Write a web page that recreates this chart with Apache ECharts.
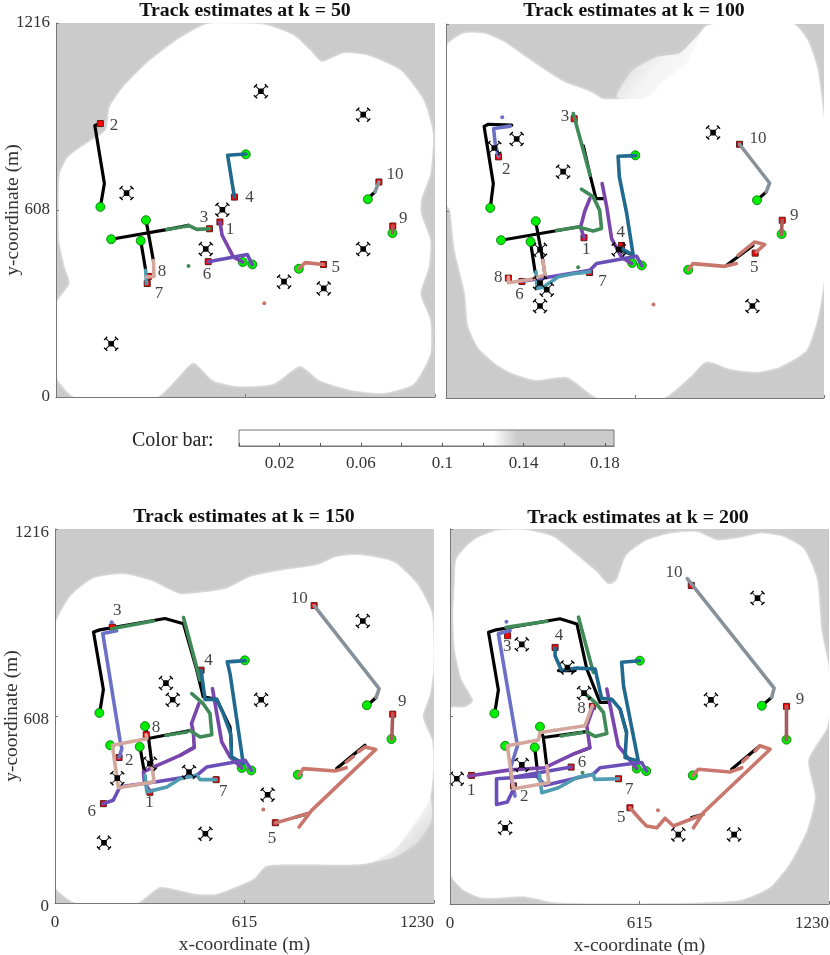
<!DOCTYPE html>
<html lang="en">
<head>
    <meta charset="UTF-8">
    <title>Track estimates</title>
    <script src="https://cdn.jsdelivr.net/npm/echarts/dist/echarts.min.js"></script>
    <style>
        html, body { margin: 0; padding: 0; background: #fff; }
    </style>
</head>
<body>
    <div id="main" style="width: 830px; height: 955px;"></div>

    <script>
        // Start positions of the ten tracks (same in every panel)
        var trackStarts = [[606, 439], [144, 618], [179, 513], [616, 789], [788, 417],
                           [637, 431], [275, 508], [292, 575], [1092, 533], [1012, 643]];
        var trackColors = ['#7a45ad', '#6b71c7', '#3f8a57', '#1f6a8e', '#c9776d',
                           '#6a4fb8', '#4f9bb2', '#d3a79c', '#a85d5d', '#87919a'];
        // Short stretch of track 3 where estimate and truth alternate
        var dottedStretch = [[360, 545], [430, 556]];

        // Colour bar
        var colorBarMax = 0.1845;
        var colorBarStops = [[0, '#ffffff'], [0.1246, '#ffffff'], [0.137, '#cbcbcb'], [0.1845, '#cbcbcb']];
        var colorBarLabels = ['0.02', '0.06', '0.1', '0.14', '0.18'];

        // ---- k = 50 ----
        var k50Coverage = [[100, 824], [40, 780], [13, 726], [9, 618], [11, 509], [29, 423], [45, 369], [0, 301], [0, 70], [62, 0],
            [327, 0], [392, 60], [446, 112], [511, 54], [597, 35], [705, 43], [792, 101], [857, 54], [965, 22], [1063, 13],
            [1160, 43], [1214, 141], [1214, 249], [1182, 336], [1209, 423], [1214, 509], [1184, 596], [1184, 640], [1214, 726],
            [1223, 856], [1192, 965], [1117, 1062], [1008, 1111], [933, 1117], [862, 1089], [824, 1127], [770, 1176], [684, 1209],
            [597, 1214], [489, 1212], [392, 1160], [294, 1084], [219, 1008], [175, 943], [162, 867]];
        var k50Truth = [
            [[144, 618], [157, 694], [126, 883], [144, 889]],
            [[179, 513], [359, 544], [430, 558]],
            [[292, 576], [316, 444]],
            [[275, 508], [291, 412]],
            [[1011, 643], [1035, 667]]
        ];
        var k50Estimates = [
            [[[606, 439], [576, 455], [539, 526], [532, 569]]],
            [],
            [[[430, 558], [457, 545], [498, 547]]],
            [[[616, 790], [557, 786], [579, 650]]],
            [[[788, 417], [809, 437], [868, 431]]],
            [[[637, 430], [621, 463], [494, 440]]],
            [[[291, 412], [294, 369]]],
            [[[316, 444], [318, 392], [294, 390]]],
            [[[1092, 533], [1093, 556]]],
            [[[1035, 667], [1048, 699]]]
        ];
        var k50Ends = [[532, 569], [144, 889], [498, 547], [579, 650], [868, 431], [494, 440], [296, 369], [300, 392], [1093, 556], [1048, 699]];
        var k50Labels = [[565, 544, '1'], [188, 883, '2'], [480, 585, '3'], [628, 648, '4'], [908, 420, '5'],
                         [490, 399, '6'], [334, 336, '7'], [344, 409, '8'], [1127, 579, '9'], [1100, 724, '10']];
        var k50Drones = [[665, 994], [997, 918], [229, 663], [540, 609], [486, 481], [740, 375], [869, 353], [997, 481], [179, 173]];
        var k50Clutter = [[430, 426, 2], [676, 305, 4]];

        // ---- k = 100 ----
        var k100Coverage = [[0, 1140], [57, 1185], [122, 1185], [187, 1158], [274, 1098], [382, 1028], [469, 996], [511, 972], [598, 972],
            [657, 979], [719, 1040], [784, 1089], [843, 1206], [880, 1216], [1129, 1216], [1175, 1164], [1207, 1076], [1224, 959], [1230, 900], [1230, 393],
            [1210, 263], [1172, 155], [1085, 101], [1010, 85], [923, 95], [847, 119], [793, 68], [707, 0], [495, 0], [394, 68],
            [290, 59], [215, 81], [159, 114], [104, 166], [72, 237], [62, 341], [29, 481], [14, 610], [0, 632]];
        var k100Soft = [[556, 979], [608, 1066], [687, 1109], [761, 1121], [826, 1187], [843, 1206], [784, 1089], [719, 1040], [657, 979]];
        var k100Truth = [
            [[144, 617], [154, 697], [124, 883], [138, 890], [214, 887]],
            [[179, 513], [430, 556]],
            [[512, 648], [488, 648], [469, 724], [447, 820]],
            [[292, 573], [315, 448], [322, 400]],
            [[275, 507], [290, 410]],
            [[1012, 643], [1042, 670]],
            [[912, 431], [999, 496]],
            [[560, 486], [609, 464]]
        ];
        var k100Estimates = [
            [[[604, 437], [571, 458], [539, 518], [523, 621], [508, 697]], [[468, 648], [452, 609], [438, 556], [449, 521]]],
            [[[209, 884], [155, 876], [160, 828], [171, 785]]],
            [[[430, 556], [479, 543], [506, 551], [500, 610], [479, 654], [441, 679]], [[469, 724], [414, 925]]],
            [[[617, 788], [560, 786], [564, 719], [588, 600], [609, 464], [566, 489]]],
            [[[788, 417], [804, 437], [907, 428], [945, 437]], [[950, 464], [1004, 507], [1037, 499], [1010, 475]]],
            [[[638, 430], [620, 461], [490, 437], [468, 415], [322, 391], [247, 380]]],
            [[[468, 410], [414, 404], [366, 394], [317, 361], [296, 356], [293, 410]]],
            [[[315, 448], [322, 400], [273, 385], [203, 375], [203, 393]]],
            [[[1091, 531], [1094, 578]]],
            [[[1042, 670], [1053, 699], [955, 825]]]
        ];
        var k100Ends = [[449, 521], [171, 784], [417, 908], [571, 496], [1006, 471], [247, 379], [467, 408], [203, 390], [1094, 578], [955, 825]];
        var k100Labels = [[456, 483, '1'], [196, 744, '2'], [387, 916, '3'], [569, 538, '4'], [1003, 423, '5'],
                          [239, 335, '6'], [509, 380, '7'], [170, 393, '8'], [1133, 592, '9'], [1015, 842, '10']];
        var k100Drones = [[869, 863], [230, 842], [157, 813], [381, 736], [306, 482], [562, 483], [306, 374], [328, 352], [306, 299], [997, 299]];
        var k100Clutter = [[183, 913, 1], [430, 425, 2], [675, 304, 4]];

        // ---- k = 150 ----
        var k150Coverage = [[0, 898], [49, 995], [124, 1055], [222, 1069], [308, 1049], [406, 1004], [492, 1011], [557, 1022], [633, 1060],
            [741, 1082], [849, 1098], [914, 1125], [990, 1131], [1098, 1109], [1174, 1038], [1223, 941], [1228, 767], [1217, 681],
            [1193, 605], [1223, 529], [1228, 442], [1217, 345], [1174, 269], [1098, 171], [1001, 128], [687, 122], [644, 79],
            [525, 30], [460, 30], [341, 52], [265, 0], [70, 0], [0, 57]];
        var k150Soft = [[1217, 345], [1222, 270], [1174, 195], [1098, 148], [1001, 128], [1098, 171], [1174, 269]];
        var k150Truth = [
            [[145, 618], [157, 694], [125, 881], [145, 888], [357, 925], [417, 908], [460, 757], [481, 670], [525, 662], [568, 572], [573, 507]],
            [[298, 534], [438, 561]],
            [[292, 573], [304, 534], [315, 448]],
            [[276, 507], [289, 431]],
            [[406, 480], [449, 505]],
            [[1012, 641], [1042, 668]],
            [[914, 437], [1006, 513]],
            [[784, 280], [822, 291]]
        ];
        var k150Estimates = [
            [[[606, 439], [568, 475], [541, 524], [511, 697]], [[467, 648], [443, 583], [449, 556], [452, 505], [406, 480], [319, 442], [287, 426], [290, 394], [308, 362]]],
            [[[200, 885], [155, 876], [211, 529], [217, 502], [208, 473]]],
            [[[438, 561], [471, 540], [509, 547], [503, 616], [481, 648], [444, 681]], [[471, 724], [417, 928]], [[319, 917], [184, 892]]],
            [[[617, 788], [559, 784], [568, 746], [611, 453], [573, 475], [570, 551], [546, 616], [525, 662], [487, 662], [474, 757]]],
            [[[790, 415], [806, 437], [909, 429], [945, 440]], [[945, 458], [968, 476]], [[985, 492], [1006, 507], [1041, 499], [947, 410], [833, 301], [792, 247]], [[822, 291], [784, 280], [715, 260]]],
            [[[638, 431], [617, 464], [492, 442], [460, 415], [330, 394], [211, 378], [189, 334], [157, 323]]],
            [[[523, 401], [471, 401], [460, 415], [406, 404], [363, 377], [298, 361], [292, 415]]],
            [[[314, 448], [322, 394], [206, 375], [186, 513], [298, 534], [296, 547]]],
            [[[1093, 532], [1096, 616]]],
            [[[1042, 668], [1052, 697], [841, 967]]]
        ];
        var k150Ends = [[308, 360], [208, 473], [186, 897], [474, 757], [715, 261], [157, 323], [523, 401], [296, 547], [1096, 614], [841, 967]];
        var k150Labels = [[307, 326, '1'], [241, 462, '2'], [202, 950, '3'], [498, 788, '4'], [704, 211, '5'],
                          [119, 296, '6'], [546, 361, '7'], [328, 571, '8'], [1127, 654, '9'], [793, 989, '10']];
        var k150Drones = [[999, 917], [360, 715], [382, 661], [669, 661], [202, 406], [308, 453], [435, 426], [690, 352], [488, 225], [159, 196]];
        var k150Clutter = [[184, 913, 1], [676, 304, 4]];

        // ---- k = 200 ----
        var k200Coverage = [[16, 1044], [22, 1120], [76, 1179], [151, 1210], [249, 1212], [335, 1190], [411, 1131], [476, 1076], [514, 1036],
            [541, 1049], [573, 1131], [638, 1179], [714, 1201], [801, 1206], [866, 1179], [931, 1185], [1006, 1201], [1082, 1190],
            [1147, 1152], [1190, 1055], [1206, 881], [1228, 773], [1230, 620], [1223, 571], [1162, 467], [1184, 347], [1158, 240],
            [1103, 133], [1038, 55], [941, 13], [700, 3], [346, 5], [238, 25], [108, 20], [43, 47], [0, 101], [0, 632],
            [49, 637], [76, 659], [38, 730], [16, 827], [11, 936]];
        var k200Truth = [
            [[145, 618], [157, 694], [125, 881], [145, 888], [357, 925], [412, 908], [444, 762], [487, 654], [514, 654]],
            [[303, 540], [443, 559]],
            [[292, 574], [303, 540], [314, 448]],
            [[275, 507], [283, 437]],
            [[352, 757], [406, 757]],
            [[400, 486], [454, 507]],
            [[552, 632], [573, 556]],
            [[1012, 643], [1044, 670]],
            [[914, 437], [1006, 513]],
            [[784, 280], [822, 291]]
        ];
        var k200Estimates = [
            [[[606, 439], [546, 513], [509, 697]], [[465, 637], [444, 578], [454, 507], [400, 486], [308, 442], [195, 435], [60, 415]]],
            [[[195, 887], [157, 876], [219, 513], [195, 437], [211, 350]]],
            [[[443, 559], [471, 543], [509, 553], [498, 621], [471, 654], [433, 686]], [[465, 751], [417, 930]], [[314, 917], [182, 897]]],
            [[[615, 789], [557, 784], [563, 708], [611, 464], [568, 475], [573, 556], [552, 632], [525, 664], [492, 667], [471, 762], [411, 765], [362, 757], [341, 805], [341, 830]]],
            [[[788, 417], [806, 437], [908, 428], [947, 442]], [[950, 462], [966, 476]], [[990, 496], [1006, 513], [1039, 502], [822, 296], [790, 247]], [[822, 291], [779, 274], [725, 253], [698, 278], [671, 247], [638, 253], [622, 269], [584, 312]]],
            [[[638, 431], [622, 459], [573, 453], [487, 442], [465, 421], [308, 385], [281, 415], [151, 406], [151, 323], [186, 331], [206, 372], [200, 410], [393, 444]]],
            [[[547, 406], [470, 404], [465, 421], [411, 410], [352, 377], [298, 361], [290, 421]]],
            [[[314, 448], [321, 393], [206, 374], [186, 513], [287, 532], [292, 556], [438, 578], [462, 643]]],
            [[[1092, 532], [1092, 641]]],
            [[[1044, 670], [1052, 700], [770, 1055]]]
        ];
        var k200Ends = [[70, 417], [206, 383], [187, 870], [341, 832], [584, 312], [393, 444], [547, 406], [462, 641], [1092, 641], [783, 1033]];
        var k200Labels = [[69, 369, '1'], [241, 348, '2'], [186, 836, '3'], [354, 869, '4'], [556, 279, '5'],
                          [428, 459, '6'], [582, 372, '7'], [427, 635, '8'], [1136, 662, '9'], [727, 1074, '10']];
        var k200Drones = [[998, 992], [233, 842], [381, 767], [435, 684], [847, 662], [233, 451], [22, 406], [179, 247], [741, 225], [922, 225]];
        var k200Clutter = [[183, 915, 1], [430, 426, 2], [675, 304, 4]];

        var panels = [
            { title: 'Track estimates at k = 50', titleX: 240, titleY: -4, left: 56, top: 23, width: 379, height: 374, showX: false, showY: true, dropY: false,
              coverage: k50Coverage, soft: null, truth: k50Truth, estimates: k50Estimates, ends: k50Ends, labels: k50Labels, drones: k50Drones, clutter: k50Clutter },
            { title: 'Track estimates at k = 100', titleX: 629, titleY: -4, left: 446, top: 24, width: 378, height: 374, showX: false, showY: false, dropY: false,
              coverage: k100Coverage, soft: k100Soft, softDir: [1, 1, 0, 0], truth: k100Truth, estimates: k100Estimates, ends: k100Ends, labels: k100Labels, drones: k100Drones, clutter: k100Clutter },
            { title: 'Track estimates at k = 150', titleX: 239, titleY: 502, left: 55, top: 529, width: 379, height: 374, showX: true, showY: true, dropY: true,
              coverage: k150Coverage, soft: k150Soft, softDir: [0, 0, 1, 1], truth: k150Truth, estimates: k150Estimates, ends: k150Ends, labels: k150Labels, drones: k150Drones, clutter: k150Clutter },
            { title: 'Track estimates at k = 200', titleX: 633, titleY: 503, left: 450, top: 529, width: 379, height: 375, showX: true, showY: false, dropY: false,
              coverage: k200Coverage, soft: null, truth: k200Truth, estimates: k200Estimates, ends: k200Ends, labels: k200Labels, drones: k200Drones, clutter: k200Clutter }
        ];

        var serif = 'Liberation Serif';
        var axisGray = '#777777';
        var dronePath = 'path://M7.5 7.5H16.5V16.5H7.5Z M3.5 2.5L21.5 20.5L20.5 21.5L2.5 3.5Z M20.5 2.5L21.5 3.5L3.5 21.5L2.5 20.5Z M0 5L5 0L6.6 1.6L1.6 6.6Z M19 0L24 5L22.4 6.6L17.4 1.6Z M0 19L1.6 17.4L6.6 22.4L5 24Z M24 19L19 24L17.4 22.4L22.4 17.4Z';

        function polygonSeries(points, idx, fill, blur, shadow, z) {
            return {
                type: 'custom',
                xAxisIndex: idx,
                yAxisIndex: idx,
                silent: true,
                clip: true,
                z: z,
                data: [[0, 0]],
                renderItem: function (params, api) {
                    return {
                        type: 'polygon',
                        shape: { points: points.map(function (p) { return api.coord(p); }), smooth: 0.2 },
                        style: { fill: fill, shadowBlur: blur, shadowColor: shadow }
                    };
                }
            };
        }

        function lineSeries(points, idx, color, width, z, dashed) {
            return {
                type: 'line',
                xAxisIndex: idx,
                yAxisIndex: idx,
                data: points,
                showSymbol: false,
                silent: true,
                z: z,
                lineStyle: { color: color, width: width, cap: 'round', join: 'round', type: dashed ? [3, 3] : 'solid' }
            };
        }

        var grids = [], xAxes = [], yAxes = [], titles = [], series = [];

        panels.forEach(function (p, i) {
            grids.push({ left: p.left, top: p.top, width: p.width, height: p.height, outerBoundsMode: 'none', show: true, backgroundColor: '#cbcbcb', borderWidth: 0 });
            titles.push({ text: p.title, left: p.titleX, top: p.titleY, textAlign: 'center',
                textStyle: { fontFamily: serif, fontSize: 19.8, fontWeight: 'bold', color: '#111' } });

            xAxes.push({
                gridIndex: i, type: 'value', min: 0, max: 1230, interval: 615, z: 10,
                name: p.showX ? 'x-coordinate (m)' : '', nameLocation: 'middle', nameGap: 32,
                nameTextStyle: { fontFamily: serif, fontSize: 19.5, color: '#333' },
                splitLine: { show: false },
                axisLine: { lineStyle: { color: axisGray } },
                axisTick: { inside: true, length: 3, lineStyle: { color: axisGray } },
                axisLabel: { show: p.showX, fontFamily: serif, fontSize: 17, color: '#333', margin: 11, alignMaxLabel: 'right', hideOverlap: false,
                    formatter: function (v) { return String(v); } }
            });
            yAxes.push({
                gridIndex: i, type: 'value', min: 0, max: 1216, interval: 608, z: 10,
                name: p.showY ? 'y-coordinate (m)' : '', nameLocation: 'middle', nameGap: 33, nameMoveOverlap: false,
                nameTextStyle: { fontFamily: serif, fontSize: 19.5, color: '#333' },
                splitLine: { show: false },
                axisLine: { lineStyle: { color: axisGray } },
                axisTick: { inside: true, length: 3, lineStyle: { color: axisGray } },
                axisLabel: { show: p.showY, fontFamily: serif, fontSize: 17, color: '#333', margin: 6, hideOverlap: false,
                    lineHeight: p.dropY ? 8 : 17,
                    // the k = 150 panel has its y labels sitting a little below the ticks
                    formatter: function (v) { return (p.dropY ? '\n' : '') + v; } }
            });

            if (p.soft) {
                var d = p.softDir;
                series.push(polygonSeries(p.soft, i, new echarts.graphic.LinearGradient(d[0], d[1], d[2], d[3], [
                    { offset: 0, color: '#ffffff' }, { offset: 0.5, color: '#f4f4f4' }, { offset: 1, color: '#cbcbcb' }
                ]), 5, '#dcdcdc', 1));
            }
            series.push(polygonSeries(p.coverage, i, '#ffffff', 3, '#ffffff', 2));

            p.truth.forEach(function (seg) { series.push(lineSeries(seg, i, '#000000', 3.2, 3)); });

            series.push({
                type: 'scatter', xAxisIndex: i, yAxisIndex: i, silent: true, z: 4, symbol: 'circle', symbolSize: 9,
                data: trackStarts, itemStyle: { color: '#00ee00', borderColor: '#0a6a0a', borderWidth: 0.8, opacity: 1 }
            });
            series.push({
                type: 'scatter', xAxisIndex: i, yAxisIndex: i, silent: true, z: 4, symbol: 'rect', symbolSize: 6,
                data: p.ends, itemStyle: { color: '#ff0000', borderColor: '#5a1a1a', borderWidth: 1, opacity: 1 }
            });

            p.estimates.forEach(function (segments, t) {
                segments.forEach(function (seg) { series.push(lineSeries(seg, i, trackColors[t], 3.6, 5)); });
            });
            series.push(lineSeries(dottedStretch, i, trackColors[2], 3.6, 5, true));

            series.push({
                type: 'scatter', xAxisIndex: i, yAxisIndex: i, silent: true, z: 6,
                symbol: dronePath, symbolSize: 15, data: p.drones, itemStyle: { color: '#000000', opacity: 1 }
            });
            series.push({
                type: 'scatter', xAxisIndex: i, yAxisIndex: i, silent: true, z: 5, symbol: 'circle', symbolSize: 4,
                data: p.clutter.map(function (c) { return [c[0], c[1]]; }),
                itemStyle: {
                    opacity: 1,
                    color: function (d) { return trackColors[p.clutter[d.dataIndex][2]]; }
                }
            });
            series.push({
                type: 'scatter', xAxisIndex: i, yAxisIndex: i, silent: true, z: 7, symbolSize: 1,
                data: p.labels, itemStyle: { color: 'transparent' },
                label: {
                    show: true, position: 'inside', fontFamily: serif, fontSize: 17, color: '#111',
                    formatter: function (d) { return d.value[2]; }
                }
            });
        });

        // Colour bar as a fifth grid
        grids.push({ left: 239, top: 430, width: 375, height: 16, outerBoundsMode: 'none', show: false });
        xAxes.push({
            gridIndex: 4, type: 'value', min: 0, max: colorBarMax, interval: 0.02, z: 10,
            splitLine: { show: false },
            axisLine: { lineStyle: { color: axisGray } },
            axisTick: { inside: true, length: 3, lineStyle: { color: '#555' } },
            axisLabel: {
                fontFamily: serif, fontSize: 17, color: '#333', margin: 9, showMaxLabel: false, hideOverlap: false,
                formatter: function (v) {
                    var s = String(+v.toFixed(2));
                    return colorBarLabels.indexOf(s) >= 0 ? s : '';
                }
            }
        });
        yAxes.push({
            gridIndex: 4, type: 'value', min: 0, max: 1, show: false
        });
        series.push({
            type: 'custom', xAxisIndex: 4, yAxisIndex: 4, silent: true, z: 1, data: [[0, 0]],
            renderItem: function (params, api) {
                var a = api.coord([0, 1]), b = api.coord([colorBarMax, 0]);
                return {
                    type: 'rect',
                    shape: { x: a[0], y: a[1], width: b[0] - a[0], height: b[1] - a[1] },
                    style: {
                        fill: new echarts.graphic.LinearGradient(0, 0, 1, 0, colorBarStops.map(function (s) {
                            return { offset: s[0] / colorBarMax, color: s[1] };
                        })),
                        stroke: axisGray,
                        lineWidth: 1
                    }
                };
            }
        });
        titles.push({ text: 'Color bar:', left: 127, top: 426, textStyle: { fontFamily: serif, fontSize: 20, fontWeight: 'normal', color: '#222' } });

        var chart = echarts.init(document.getElementById('main'), null, { renderer: 'canvas' });
        chart.setOption({
            animation: false,
            title: titles,
            grid: grids,
            xAxis: xAxes,
            yAxis: yAxes,
            series: series
        });
    </script>
</body>
</html>
